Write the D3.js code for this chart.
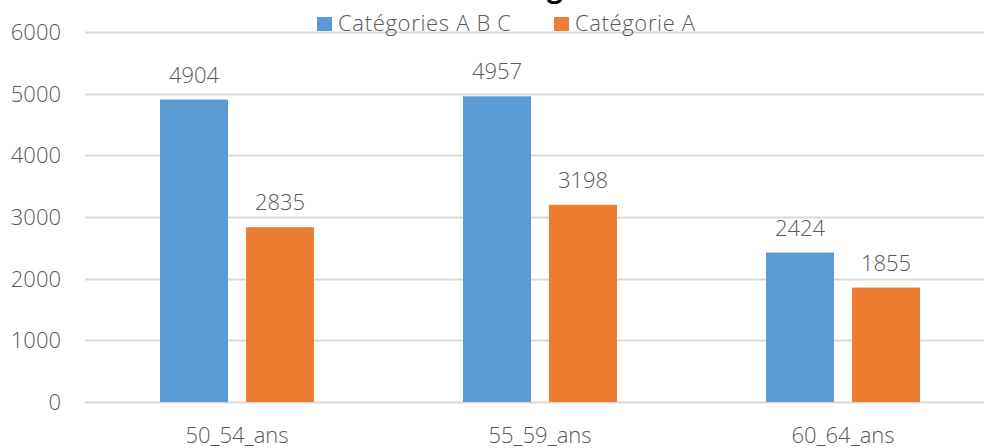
<!DOCTYPE html>
<html>
<head>
<meta charset="utf-8">
<script src="https://cdn.jsdelivr.net/npm/d3@7"></script>
<style>
  body { margin: 0; background: #fff; }
  svg { display: block; }
  text { font-family: "Open Sans", "Noto Sans", sans-serif; fill: #595959; font-weight: 300; }
</style>
</head>
<body>
<div id="chart"></div>
<script>
// data
const categories = ["50_54_ans", "55_59_ans", "60_64_ans"];
const seriesNames = ["Catégories A B C", "Catégorie A"];
const abc = [4904, 4957, 2424];
const catA = [2835, 3198, 1855];
const yTicks = [0, 1000, 2000, 3000, 4000, 5000, 6000];
const colors = ["#5b9bd5", "#ed7d31"];

function init() {
    var w = 984;
    var h = 448;

    const svg = d3.select("#chart")
        .append("svg")
        .attr("width", w)
        .attr("height", h);

    const x = d3.scaleBand()
        .domain(categories)
        .range([85.5, 994.5]);

    // two bars of 68px with an 18px gap, centred in each 303px band
    const inner = d3.scaleBand()
        .domain([0, 1])
        .range([74.5, 303 - 74.5])
        .paddingInner(18 / 86);

    const y = d3.scaleLinear()
        .domain([0, 6000])
        .range([402, 32]);

    // gridlines
    svg.append("g")
        .selectAll("line")
        .data(yTicks)
        .enter()
        .append("line")
        .attr("x1", 85)
        .attr("x2", w)
        .attr("y1", d => Math.round(y(d)) + 0.5)
        .attr("y2", d => Math.round(y(d)) + 0.5)
        .attr("stroke", "#d9d9d9")
        .attr("stroke-width", 2);

    // y labels
    svg.append("g")
        .selectAll("text")
        .data(yTicks)
        .enter()
        .append("text")
        .attr("x", 61)
        .attr("y", d => y(d) + 8)
        .attr("text-anchor", "end")
        .attr("font-size", 22)
        .text(d => d);

    // x labels
    svg.append("g")
        .selectAll("text")
        .data(categories)
        .enter()
        .append("text")
        .attr("x", d => x(d) + x.bandwidth() / 2)
        .attr("y", 443)
        .attr("text-anchor", "middle")
        .attr("font-size", 22)
        .text(d => d);

    const series = [abc, catA];
    series.forEach((vals, s) => {
        const g = svg.append("g");
        g.selectAll("rect")
            .data(vals)
            .enter()
            .append("rect")
            .attr("x", (d, i) => x(categories[i]) + inner(s))
            .attr("width", inner.bandwidth())
            .attr("y", d => y(d))
            .attr("height", d => y(0) - y(d))
            .attr("fill", colors[s]);
        g.selectAll("text")
            .data(vals)
            .enter()
            .append("text")
            .attr("x", (d, i) => x(categories[i]) + inner(s) + inner.bandwidth() / 2)
            .attr("y", d => y(d) - 17)
            .attr("text-anchor", "middle")
            .attr("font-size", 22)
            .text(d => d);
    });

    // title (cut off at the top, only the descender shows)
    svg.append("text")
        .attr("x", 555)
        .attr("y", -3)
        .attr("text-anchor", "middle")
        .attr("font-size", 28)
        .style("font-weight", "bold")
        .style("fill", "#000")
        .text("g");

    // legend
    const legendX = [317, 554];
    const legendW = [173, 120];
    const leg = svg.append("g")
        .selectAll("g")
        .data(seriesNames)
        .enter()
        .append("g")
        .attr("transform", (d, i) => `translate(${legendX[i]}, 17)`);
    leg.append("rect")
        .attr("width", 15)
        .attr("height", 14)
        .attr("fill", (d, i) => colors[i]);
    leg.append("text")
        .attr("x", 21)
        .attr("y", 14)
        .attr("font-size", 22)
        .attr("textLength", (d, i) => legendW[i])
        .text(d => d);
}

window.onload = init;
</script>
</body>
</html>
